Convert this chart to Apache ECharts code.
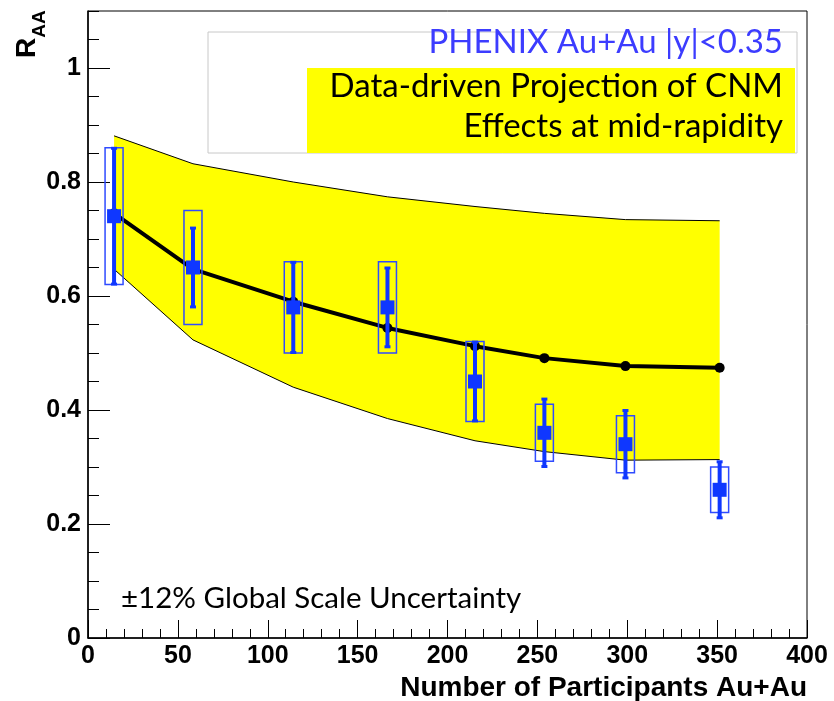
<!DOCTYPE html>
<html><head><meta charset="utf-8">
<script src="https://cdn.jsdelivr.net/npm/echarts@6/dist/echarts.min.js"></script>
<style>html,body{margin:0;padding:0;background:#fff}#c{width:834px;height:701px}</style>
</head><body><div id="c"></div>
<script>
// ---- data ----
const nPart      = [14.5, 58.4, 114.2, 166.6, 215.3, 253.9, 299.0, 351.4];
const raa        = [0.74, 0.65, 0.58, 0.58, 0.45, 0.36, 0.34, 0.26];
const statErr    = [0.12, 0.07, 0.08, 0.07, 0.07, 0.06, 0.06, 0.05];
const systErr    = [0.12, 0.10, 0.08, 0.08, 0.07, 0.05, 0.05, 0.04];
const cnmCentral = [0.745, 0.647, 0.590, 0.544, 0.512, 0.491, 0.477, 0.474];
const cnmUpper   = [0.881, 0.832, 0.800, 0.774, 0.757, 0.745, 0.734, 0.732];
const cnmLower   = [0.647, 0.523, 0.440, 0.385, 0.346, 0.327, 0.312, 0.313];
const xTickLabels = ['0','50','100','150','200','250','300','350','400'];
const yTickLabels = ['0','0.2','0.4','0.6','0.8','1'];
const legendTitle = 'PHENIX Au+Au |y|<0.35';
const legendBand = ['Data-driven Projection of CNM', 'Effects at mid-rapidity'];
const globalNote = '\u00b112% Global Scale Uncertainty';
const xTitle = 'Number of Participants Au+Au';

// ---- chart ----
const BLUE = '#0f37ff';
const chart = echarts.init(document.getElementById('c'), null, {renderer: 'canvas'});
const axisFont = {fontFamily: '"Liberation Sans", Arial, sans-serif', fontWeight: 'bold', fontSize: 25, color: '#000'};

const option = {
  backgroundColor: '#fff',
  animation: false,
  grid: {left: 88, right: 27, top: 11, bottom: 63, show: true, borderColor: '#000', borderWidth: 1, backgroundColor: 'transparent'},
  xAxis: [
    {type: 'value', min: 0, max: 400, interval: 50, position: 'bottom',
     axisLine: {show: true, lineStyle: {color: '#000', width: 1.5}},
     axisTick: {show: true, inside: true, length: 18, lineStyle: {color: '#000', width: 1}},
     splitLine: {show: false},
     axisLabel: Object.assign({margin: 6, formatter: (v) => xTickLabels[Math.round(v / 50)] || ''}, axisFont)},
    {type: 'value', min: 0, max: 400, interval: 10, position: 'bottom',
     axisLine: {show: false}, axisLabel: {show: false}, splitLine: {show: false},
     axisTick: {show: true, inside: true, length: 9, lineStyle: {color: '#000', width: 1}}}
  ],
  yAxis: [
    {type: 'value', min: 0, max: 1.1, interval: 0.2, position: 'left',
     axisLine: {show: true, lineStyle: {color: '#000', width: 1.5}},
     axisTick: {show: true, inside: true, length: 22, lineStyle: {color: '#000', width: 1}},
     splitLine: {show: false},
     axisLabel: Object.assign({margin: 7, showMaxLabel: false,
       formatter: (v) => { const i = Math.round(v / 0.2); return Math.abs(v - i * 0.2) < 1e-6 ? (yTickLabels[i] || '') : ''; }}, axisFont)},
    {type: 'value', min: 0, max: 1.1, interval: 0.05, position: 'left',
     axisLine: {show: false}, axisLabel: {show: false}, splitLine: {show: false},
     axisTick: {show: true, inside: true, length: 11, lineStyle: {color: '#000', width: 1}}}
  ],
  series: [
    { // CNM band
      type: 'custom', xAxisIndex: 0, yAxisIndex: 0, z: 1, silent: true,
      data: nPart.map((x, i) => [x, cnmUpper[i], cnmLower[i]]),
      renderItem: (params, api) => {
        if (params.dataIndex !== 0) return null;
        const pts = [];
        for (let i = 0; i < nPart.length; i++) pts.push(api.coord([nPart[i], cnmUpper[i]]));
        for (let i = nPart.length - 1; i >= 0; i--) pts.push(api.coord([nPart[i], cnmLower[i]]));
        return {type: 'polygon', shape: {points: pts}, style: {fill: '#ffff00', stroke: null}};
      }
    },
    {type: 'line', z: 2, data: nPart.map((x, i) => [x, cnmUpper[i]]), symbol: 'none',
     lineStyle: {color: '#000', width: 1}, silent: true},
    {type: 'line', z: 2, data: nPart.map((x, i) => [x, cnmLower[i]]), symbol: 'none',
     lineStyle: {color: '#000', width: 1}, silent: true},
    {type: 'line', z: 3, data: nPart.map((x, i) => [x, cnmCentral[i]]), symbol: 'circle', symbolSize: 10,
     itemStyle: {color: '#000'}, lineStyle: {color: '#000', width: 4}, silent: true},
    { // data points with stat + syst errors
      type: 'custom', z: 4, silent: true,
      data: nPart.map((x, i) => [x, raa[i], statErr[i], systErr[i]]),
      renderItem: (params, api) => {
        const x = api.value(0), y = api.value(1), st = api.value(2), sy = api.value(3);
        const c = api.coord([x, y]);
        const sTop = api.coord([x, y + sy]), sBot = api.coord([x, y - sy]);
        const eTop = api.coord([x, y + st]), eBot = api.coord([x, y - st]);
        const bw = 18, ms = 14;
        return {type: 'group', children: [
          {type: 'rect', shape: {x: c[0] - bw / 2, y: sTop[1], width: bw, height: sBot[1] - sTop[1]},
           style: {fill: 'none', stroke: '#2f4bff', lineWidth: 1.5}},
          {type: 'line', shape: {x1: c[0], y1: eTop[1], x2: c[0], y2: eBot[1]},
           style: {stroke: BLUE, lineWidth: 4}},
          {type: 'rect', shape: {x: c[0] - 3, y: eTop[1] - 1, width: 6, height: 3}, style: {fill: BLUE}},
          {type: 'rect', shape: {x: c[0] - 3, y: eBot[1] - 2, width: 6, height: 3}, style: {fill: BLUE}},
          {type: 'rect', shape: {x: c[0] - ms / 2, y: c[1] - ms / 2, width: ms, height: ms}, style: {fill: BLUE}}
        ]};
      }
    }
  ],
  graphic: [
    {type: 'rect', z: 10, shape: {x: 208, y: 32, width: 589, height: 121},
     style: {fill: '#fff', stroke: '#c8c8c8', lineWidth: 1}},
    {type: 'rect', z: 11, shape: {x: 307, y: 68, width: 488, height: 85},
     style: {fill: '#ffff00', stroke: null}},
    {type: 'text', z: 12, style: {text: legendTitle, x: 783, y: 42, textAlign: 'right', textVerticalAlign: 'middle',
      font: '33px Lato', fill: '#3c3cff'}},
    {type: 'text', z: 12, style: {text: legendBand[0], x: 783, y: 86, textAlign: 'right', textVerticalAlign: 'middle',
      font: '33px Lato', fill: '#000'}},
    {type: 'text', z: 12, style: {text: legendBand[1], x: 783, y: 126, textAlign: 'right', textVerticalAlign: 'middle',
      font: '33px Lato', fill: '#000'}},
    {type: 'text', z: 12, style: {text: globalNote, x: 121, y: 598, textAlign: 'left', textVerticalAlign: 'middle',
      font: '29.5px Lato', fill: '#000'}},
    {type: 'text', z: 12, style: {text: xTitle, x: 807, y: 688, textAlign: 'right', textVerticalAlign: 'middle',
      font: 'bold 28px "Liberation Sans", Arial, sans-serif', fill: '#000'}},
    {type: 'text', z: 12, x: 27, y: 48, rotation: Math.PI / 2,
     style: {text: 'R', x: 0, y: 0, textAlign: 'center', textVerticalAlign: 'middle',
      font: 'bold 28px "Liberation Sans", Arial, sans-serif', fill: '#000'}},
    {type: 'text', z: 12, x: 40, y: 24, rotation: Math.PI / 2,
     style: {text: 'AA', x: 0, y: 0, textAlign: 'center', textVerticalAlign: 'middle',
      font: 'bold 19px "Liberation Sans", Arial, sans-serif', fill: '#000'}}
  ]
};
chart.setOption(option);
</script>
</body></html>
